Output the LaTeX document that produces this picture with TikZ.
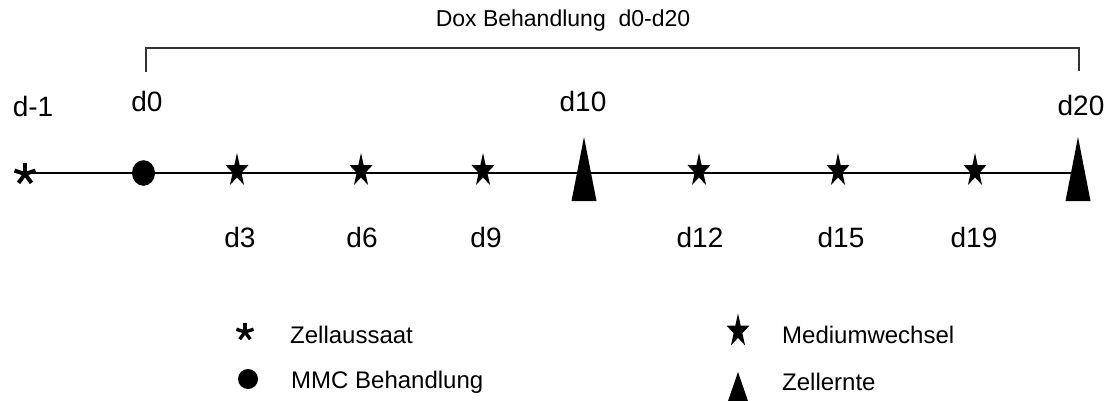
\documentclass[tikz,border=0pt]{standalone}
\usepackage{fontspec}
\setmainfont{Liberation Sans}
\tikzset{
  dlab/.style={font=\fontsize{28}{30}\selectfont, anchor=base, inner sep=0pt},
  leglab/.style={font=\fontsize{24}{26}\selectfont, anchor=base west, inner sep=0pt},
  ttl/.style={font=\fontsize{23}{25}\selectfont, anchor=base, inner sep=0pt},
  tline/.style={line width=1.6pt},
  brk/.style={line width=1.2pt, black!80},
  mstar/.pic={\fill[yshift=2.3pt, x=12pt, y=17.7pt] (90:1) -- (126:0.382) -- (162:1) -- (198:0.382) -- (234:1) -- (270:0.382) -- (306:1) -- (342:0.382) -- (18:1) -- (54:0.382) -- cycle;},
  mtri/.pic={\fill (0,-36) -- (-12.5,28) -- (12.5,28) -- cycle;},
  ltri/.pic={\fill (0,-16) -- (-11,16) -- (11,16) -- cycle;},
  mast/.pic={\foreach \a in {90,162,234,306,18} \draw[line width=4pt] (0,0) -- (\a:11pt);},
  last/.pic={\foreach \a in {90,162,234,306,18} \draw[line width=3.4pt] (0,0) -- (\a:9pt);}
}
\begin{document}
\begin{tikzpicture}[x=1pt, y=-1pt]
\useasboundingbox (0,0) rectangle (1107,401);
% marker positions on the time line
\coordinate (mm1) at (25,174);
\coordinate (m0) at (143.5,173);
\coordinate (m3) at (237,173);
\coordinate (m6) at (361,173);
\coordinate (m9) at (483,173);
\coordinate (m10) at (584,173);
\coordinate (m12) at (699,173);
\coordinate (m15) at (838,173);
\coordinate (m19) at (975,173);
\coordinate (m20) at (1078,173);
% time line
\draw[tline] (mm1 |- m0) -- (m20);
% bracket
\coordinate (bl) at (146,72);
\coordinate (br) at (1079,71);
\draw[brk] (bl) -- (146,48) -| (br);
\node[ttl] (title) at (563,27) {Dox Behandlung~~d0-d20};
% markers
\pic at (mm1) {mast};
\fill (m0) ellipse [x radius=11.5pt, y radius=12.8pt];
\pic at (m3) {mstar};
\pic at (m6) {mstar};
\pic at (m9) {mstar};
\pic at (m10) {mtri};
\pic at (m12) {mstar};
\pic at (m15) {mstar};
\pic at (m19) {mstar};
\pic at (m20) {mtri};
% labels
\node[dlab] (ldm1) at (33,117) {d-1};
\node[dlab] (ld0) at (147,112) {d0};
\node[dlab] (ld10) at (583,112) {d10};
\node[dlab] (ld20) at (1081,115) {d20};
\node[dlab] (ld3) at (240,247) {d3};
\node[dlab] (ld6) at (362,247) {d6};
\node[dlab] (ld9) at (486,247) {d9};
\node[dlab] (ld12) at (700,247) {d12};
\node[dlab] (ld15) at (841,247) {d15};
\node[dlab] (ld19) at (974,247) {d19};
% legend
\coordinate (k1) at (245,332);
\coordinate (k2) at (248,379);
\coordinate (k3) at (738,333.4);
\coordinate (k4) at (738,388);
\pic at (k1) {last};
\fill (k2) circle [radius=10pt];
\pic at (k3) {mstar};
\pic at (k4) {ltri};
\node[leglab] (t1) at (290,343) {Zellaussaat};
\node[leglab] (t2) at (291,388) {MMC Behandlung};
\node[leglab] (t3) at (782,343) {Mediumwechsel};
\node[leglab] (t4) at (782,390) {Zellernte};
\end{tikzpicture}
\end{document}
